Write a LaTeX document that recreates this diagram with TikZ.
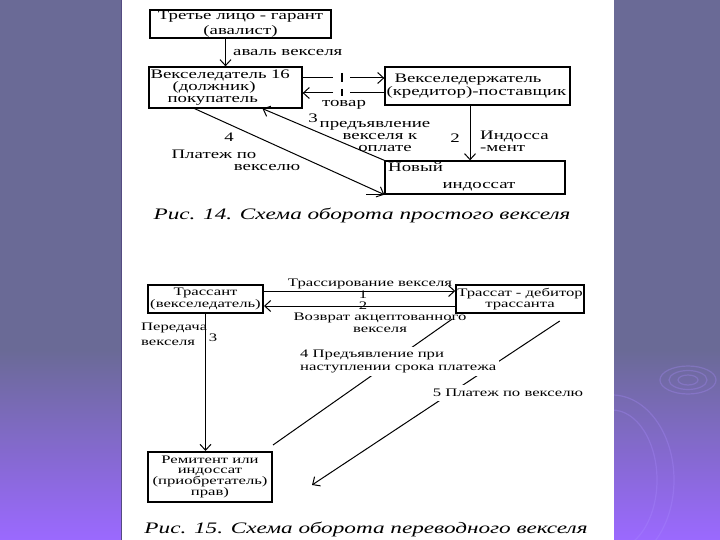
\documentclass[tikz,border=0pt]{standalone}
\usepackage{fontspec}
\setmainfont[FakeStretch=1.45]{Liberation Serif}
\usetikzlibrary{arrows.meta,calc}
\definecolor{panel}{RGB}{106,106,150}
\definecolor{panelb}{RGB}{155,105,255}
\definecolor{ripple}{RGB}{170,140,255}
\newcommand{\fsz}[2]{\fontsize{#1}{#2}\selectfont}
\tikzset{
  box/.style={draw, line width=1.3pt, inner sep=1pt},
  boxb/.style={draw, line width=2pt, inner sep=1pt},
  arr/.style={-{Straight Barb[length=6pt,width=11pt]}, line width=1pt},
  ln/.style={line width=1pt},
  ttop/.style={font=\fsz{13}{12}, inner sep=0pt},
  tbot/.style={font=\fsz{11.5}{12}, inner sep=0pt},
  captxt/.style={font=\fsz{16}{16}\itshape, inner sep=0pt},
}
\begin{document}
\begin{tikzpicture}[x=1pt,y=-1pt]
\useasboundingbox (0,0) rectangle (720,540);
% background panels
\fill[panel] (0,0) rectangle (122,350);
\shade[top color=panel,bottom color=panelb] (0,349.5) rectangle (122,540);
\fill[panel] (614,0) rectangle (720,350);
\shade[top color=panel,bottom color=panelb] (614,349.5) rectangle (720,540);
\fill[white] (122,0) rectangle (614,540);
\draw[color={rgb,255:red,85;green,75;blue,130}, line width=0.8pt] (121.6,0) -- (121.6,540);
\begin{scope}
\clip (614,0) rectangle (720,540);
\begin{scope}[draw=ripple, opacity=0.3, line width=1.2pt]
\draw (688,380) ellipse [x radius=28, y radius=14];
\draw (688,380) ellipse [x radius=19, y radius=9.5];
\draw (688,380) ellipse [x radius=10, y radius=5];
\draw (612,480) ellipse [x radius=45, y radius=70];
\draw (612,480) ellipse [x radius=62, y radius=85];
\end{scope}
\end{scope}

% ---------- Fig. 14 ----------
\node[box, minimum width=181pt, minimum height=28pt, align=center, font=\fsz{13}{14.5}] (A) at (240.5,24)
  {Третье лицо - гарант\\(авалист)};
\node[box, minimum width=153pt, minimum height=41pt, text width=150pt, align=left, font=\fsz{13}{11.5}, inner xsep=1pt] (B) at (225.5,87.5)
  {Векселедатель 16\\\hspace*{22pt}(должник)\\\hspace*{17pt}покупатель};
\node[box, minimum width=185pt, minimum height=38pt, text width=182pt, align=left, font=\fsz{13}{13}, inner xsep=1.5pt] (C) at (477.5,86)
  {\hspace*{8pt}Векселедержатель\\(кредитор)-поставщик};
\node[box, minimum width=180pt, minimum height=33pt] (D) at (475,177.5) {};
\draw[ln] (D.south west) -- ++(-18,0);
\node[ttop, anchor=west] (Dt1) at (388,167) {Новый};
\node[ttop] (Dt2) at (479,187) {индоссат};

\draw[arr] (A.south -| B.north) -- (B.north);
\node[ttop, anchor=west] (aval) at (233,53) {аваль векселя};

\coordinate (t1) at (342,78);
\coordinate (t2) at (342,93);
\draw[ln] (B.east |- t1) -- ([xshift=-9pt]t1);
\draw[arr] ([xshift=8pt]t1) -- (C.west |- t1);
\draw[line width=2.4pt] ([yshift=5pt]t1) -- ([yshift=-4pt]t1);
\draw[arr] ([xshift=-9pt]t2) -- (B.east |- t2);
\draw[ln] ([xshift=8pt]t2) -- (C.west |- t2);
\draw[line width=2.4pt] ([yshift=4pt]t2) -- ([yshift=-3pt]t2);
\node[ttop] (tovar) at (344,105) {товар};

\draw[arr] (D.north west) -- ($(B.south west)!0.74!(B.south east)$);
\node[ttop] (n3) at (313,118) {3};
\node[ttop, align=center, font=\fsz{13}{12}] (pred) at (375,137) {предъявление\\\hspace*{10pt}векселя к\\\hspace*{20pt}оплате};

\draw[arr] ($(B.south west)!0.3!(B.south east)$) -- (D.south west);
\node[ttop] (n4) at (229,137) {4};
\node[ttop] (pl1) at (214,154) {Платеж по};
\node[ttop] (pl2) at (267,168) {векселю};

\draw[arr] ($(C.south west)!0.46!(C.south east)$) coordinate (c2) -- (c2 |- D.north);
\node[ttop] (n2) at (455,138) {2};
\node[ttop, anchor=west, align=left] (ind) at (480,141) {Индосса\\-мент};

\node[captxt] (cap1) at (362,215) {Рис. 14. Схема оборота простого векселя};

% ---------- Fig. 15 ----------
\node[boxb, minimum width=115pt, minimum height=28pt, align=center, font=\fsz{11.5}{12.5}] (E) at (205.5,299)
  {Трассант\\(векселедатель)};
\node[boxb, minimum width=124pt, minimum height=28pt, align=center, font=\fsz{11.5}{11.5}] (F) at (520,299)
  {Трассат - дебитор\\трассанта};
\node[boxb, minimum width=124pt, minimum height=50pt, align=center, font=\fsz{11.5}{10}] (G) at (210,477)
  {Ремитент или\\индоссат\\(приобретатель)\\прав)};

\draw[arr] ([yshift=8pt]E.east) -- ([yshift=8pt]F.west);
\node[tbot] (tr) at (370,284) {Трассирование векселя};
\node[tbot] (m1) at (363,294.5) {1};
\draw[arr] ([yshift=-7pt]F.west) -- ([yshift=-7pt]E.east);
\node[tbot] (m2) at (363,305.5) {2};
\node[tbot, align=center, font=\fsz{11.5}{12.5}] (voz) at (380,323) {Возврат акцептованного\\векселя};

\draw[arr] (E.south) -- (E.south |- G.north);
\node[tbot, anchor=west, align=left, font=\fsz{11.5}{15}] (per) at (141,334.5) {Передача\\векселя};
\node[tbot] (m3) at (213,338) {3};

\draw[ln] ([yshift=6pt]G.north east) -- ([shift={(-3pt,-5pt)}]F.south west);
\coordinate (p5) at (312,485);
\draw[arr] ([shift={(-25pt,-7pt)}]F.south east) -- (p5);

\node[tbot, fill=white, anchor=west, align=left, font=\fsz{11.5}{13}, inner sep=3pt] (m4) at (297,361.5)
  {4 Предъявление при\\наступлении срока платежа};
\node[tbot, fill=white, inner sep=4pt] (m5) at (508,393) {5 Платеж по векселю};

\node[captxt] (cap2) at (366,529) {Рис. 15. Схема оборота переводного векселя};
\end{tikzpicture}
\end{document}
